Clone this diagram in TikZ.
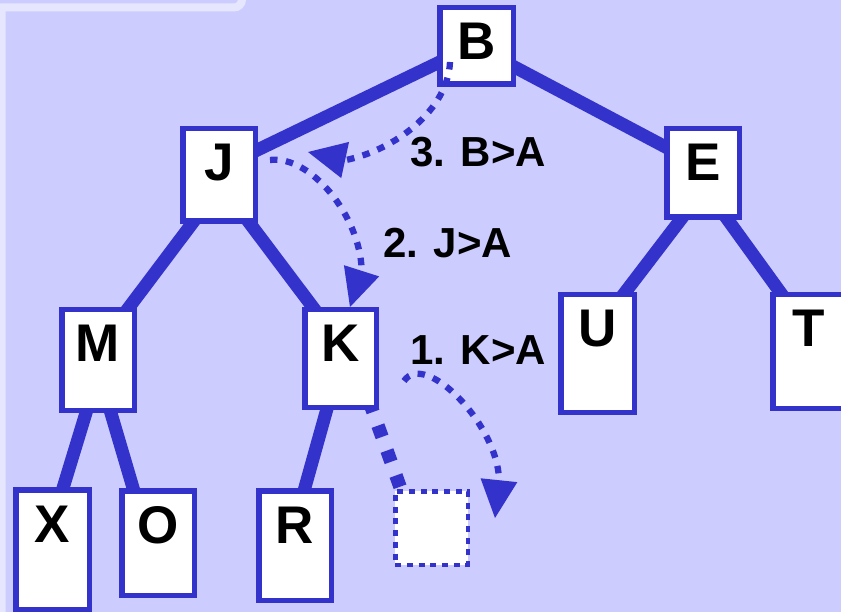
\documentclass[tikz,border=0pt]{standalone}
\usepackage{fontspec}
\setmainfont{Liberation Sans}
\usetikzlibrary{calc,arrows.meta}
\definecolor{bl}{RGB}{51,51,204}
\definecolor{bgc}{RGB}{204,204,255}
\definecolor{frm}{RGB}{230,230,255}
\pgfdeclarelayer{bg}
\pgfdeclarelayer{edges}
\pgfsetlayers{bg,edges,main}
\tikzset{
  box/.style n args={2}{draw=bl, line width=5.5pt, fill=white, inner sep=0pt,
    outer sep=2.75pt, anchor=north west, minimum width=#1pt,
    text height=52.25pt, text depth=#2pt,
    font=\fontsize{53}{60}\selectfont\bfseries},
  emptybox/.style={draw=bl, line width=4.5pt, dash pattern=on 6pt off 5.7pt,
    fill=white, inner sep=0pt, outer sep=2.25pt, anchor=north west,
    minimum width=72.5pt, minimum height=73.5pt},
  branch/.style={draw=bl, line width=13pt},
  dashbranch/.style={draw=bl, line width=13.5pt, dash pattern=on 12pt off 14.5pt, dash phase=23.65pt},
  dotarrow/.style={draw=bl, line width=6.3pt, dash pattern=on 7.5pt off 8.5pt,
    -{Triangle[length=38pt,width=37pt,line width=0pt]}},
  lbl/.style={anchor=base west, inner sep=0pt, font=\fontsize{42}{48}\selectfont\bfseries},
  frame/.style={draw=frm, line width=8pt}
}
\begin{document}
\begin{tikzpicture}[x=1pt,y=-1pt]
\useasboundingbox (0,0) rectangle (841,612);
\begin{pgfonlayer}{bg}
  \begin{scope}
    \clip (0,0) rectangle (841,612);
    \fill[bgc] (0,0) rectangle (841,612);
    \draw[frame] (1.5,620) -- (1.5,7.5) -- (234,7.5) arc[start angle=90, end angle=0, radius=8] -- (242,-6);
  \end{scope}
\end{pgfonlayer}

\node[box={73.5}{24.25}] (B) at (437,5) {B};
\node[box={72.5}{40.25}] (J) at (180,126) {J};
\node[box={72.5}{36.25}] (E) at (664,126) {E};
\node[box={72.5}{48.25}] (M) at (59,307) {M};
\node[box={71.5}{45.25}] (K) at (302,307) {K};
\node[box={73.5}{65.25}] (U) at (558,292) {U};
\node[box={72.5}{61.25}] (T) at (770,292) {T};
\node[box={73.5}{67.25}] (X) at (13,487) {X};
\node[box={72.5}{52.25}] (O) at (119,488) {O};
\node[box={72.5}{57.25}] (R) at (256,488) {R};
\node[emptybox] (A) at (393,489) {};

\begin{pgfonlayer}{edges}
  \draw[branch] ($(B.center)+(-28.5,12)$) -- ($(J.center)+(28,-20)$);
  \draw[branch] ($(B.center)+(28.5,16)$) -- ($(E.center)+(-28,-21)$);
  \draw[branch] ($(J.center)+(-19,38)$) -- ($(M.center)+(23,-42)$);
  \draw[branch] ($(J.center)+(23,38)$) -- ($(K.center)+(-19.5,-40.5)$);
  \draw[branch] ($(E.center)+(-15,37)$) -- ($(U.center)+(19.5,-50.5)$);
  \draw[branch] ($(E.center)+(17,36)$) -- ($(T.center)+(-21,-48.5)$);
  \draw[branch] ($(M.center)+(-9,43)$) -- ($(X.center)+(7.5,-51.5)$);
  \draw[branch] ($(M.center)+(10,43)$) -- ($(O.center)+(-22,-45)$);
  \draw[branch] ($(K.center)+(-10.5,39.5)$) -- ($(R.center)+(7,-47.5)$);
  \draw[dashbranch] ($(K.center)+(27.5,39.5)$) -- ($(A.center)+(-28.5,-33)$);
\end{pgfonlayer}

\draw[dotarrow] ($(B.center)+(-26.5,16)$) .. controls (448,110) and (395,150) .. (345.6,160.1) -- ($(J.center)+(89,-23)$);
\draw[dotarrow] ($(J.center)+(51,-15)$) .. controls (310,155) and (360,215) .. (361.7,270.3) -- ($(K.center)+(9.5,-51.5)$);
\draw[dotarrow] ($(K.center)+(63.5,22.5)$) .. controls (425,350) and (498,425) .. (499,479.7) -- ($(A.center)+(63.5,-10)$);

\node[lbl] (l3) at (410,167) {3. B>A};
\node[lbl] (l2) at (383,258) {2. J>A};
\node[lbl] (l1) at (410,365) {1. K>A};
\end{tikzpicture}
\end{document}
